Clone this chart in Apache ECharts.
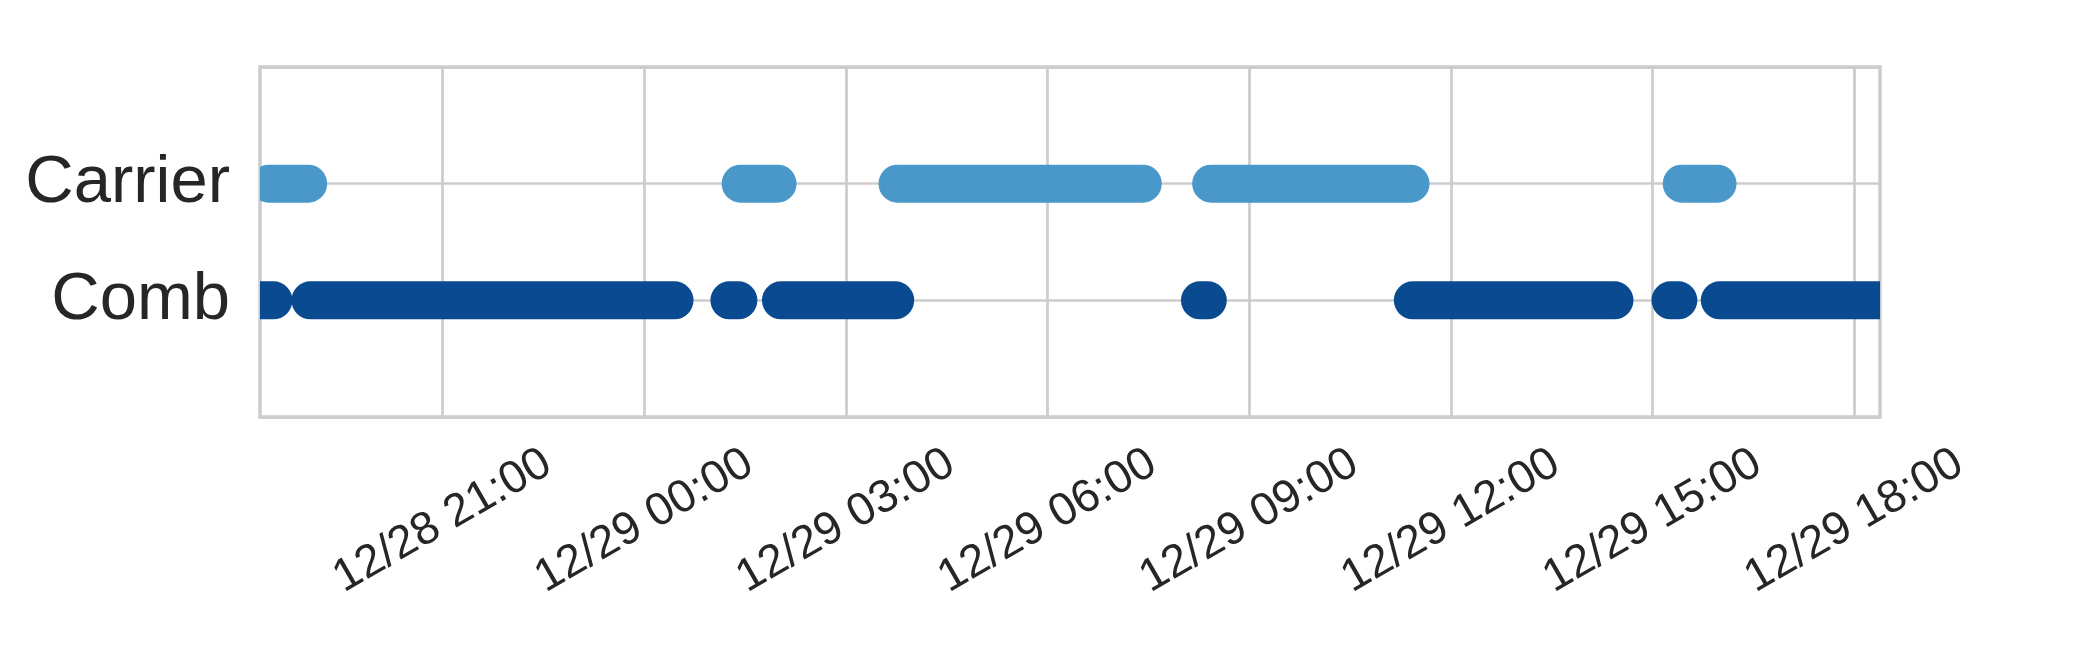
<!DOCTYPE html>
<html>
<head>
<meta charset="utf-8">
<script src="https://cdn.jsdelivr.net/npm/echarts@6/dist/echarts.min.js"></script>
<style>
  html, body { margin: 0; padding: 0; background: #fff; }
  #chart { width: 2088px; height: 665px; }
</style>
</head>
<body>
<div id="chart"></div>
<script>
  // rows of the y axis (index = position, bottom to top)
  var rows = ['Comb', 'Carrier'];

  // runs of consecutive samples (MM/DD HH:MM), first and last sample of each run
  var carrierStart = ['12/28 18:25', '12/29 01:26', '12/29 03:46', '12/29 08:26', '12/29 15:26'];
  var carrierEnd   = ['12/28 19:00', '12/29 01:59', '12/29 07:25', '12/29 11:24', '12/29 15:58'];

  var combStart = ['12/28 18:17', '12/28 19:02', '12/29 01:16', '12/29 02:02',
                   '12/29 08:16', '12/29 11:26', '12/29 15:16', '12/29 16:00'];
  var combEnd   = ['12/28 18:29', '12/29 00:27', '12/29 01:24', '12/29 03:44',
                   '12/29 08:23', '12/29 14:26', '12/29 15:23', '12/29 18:23'];

  var xTickLabels = ['12/28 21:00', '12/29 00:00', '12/29 03:00', '12/29 06:00',
                     '12/29 09:00', '12/29 12:00', '12/29 15:00', '12/29 18:00'];
  var xStart = '12/28 18:17';
  var xEnd = '12/29 18:23';

  // 'MM/DD HH:MM' -> hours since 12/28 00:00
  function toHours(s) {
    var p = s.split(/[\/ :]/);
    return (+p[1] - 28) * 24 + (+p[2]) + (+p[3]) / 60;
  }

  var xTickHours = xTickLabels.map(toHours);

  function toData(starts, ends, row) {
    return starts.map(function (s, i) {
      return [toHours(s), toHours(ends[i]), rows.indexOf(row)];
    });
  }

  // round-capped bar from first to last sample, 38px tall
  function renderRun(params, api) {
    var y = api.value(2);
    var a = api.coord([api.value(0), y]);
    var b = api.coord([api.value(1), y]);
    return {
      type: 'rect',
      shape: { x: a[0] - 19, y: a[1] - 19, width: b[0] - a[0] + 38, height: 38, r: 19 },
      style: { fill: api.visual('color') }
    };
  }

  var myChart = echarts.init(document.getElementById('chart'));
  var option = {
    animation: false,
    backgroundColor: '#ffffff',
    grid: {
      left: 260, top: 67, width: 1620, height: 350,
      outerBoundsMode: 'none',
      show: true,
      borderColor: '#cccccc',
      borderWidth: 3.5,
      backgroundColor: '#ffffff'
    },
    xAxis: {
      type: 'value',
      min: toHours(xStart),
      max: toHours(xEnd),
      axisLine: { show: false },
      axisTick: { show: false, customValues: xTickHours },
      splitLine: { show: true, lineStyle: { color: '#cccccc', width: 2.7 } },
      axisLabel: {
        customValues: xTickHours,
        rotate: 30,
        align: 'center',
        verticalAlign: 'middle',
        margin: 104,
        fontSize: 46,
        fontFamily: 'Liberation Sans, Arial, sans-serif',
        color: '#262626',
        formatter: function (v) {
          var i = xTickHours.indexOf(v);
          return i >= 0 ? xTickLabels[i] : '';
        }
      }
    },
    yAxis: {
      type: 'value',
      min: -1,
      max: 2,
      interval: 1,
      axisLine: { show: false },
      axisTick: { show: false },
      splitLine: { show: true, lineStyle: { color: '#cccccc', width: 2.7 } },
      axisLabel: {
        margin: 30,
        fontSize: 67,
        fontFamily: 'Liberation Sans, Arial, sans-serif',
        color: '#262626',
        formatter: function (v) { return rows[v] || ''; }
      }
    },
    series: [
      {
        name: 'Carrier',
        type: 'custom',
        clip: true,
        itemStyle: { color: '#4a98c9' },
        encode: { x: [0, 1], y: 2 },
        renderItem: renderRun,
        data: toData(carrierStart, carrierEnd, 'Carrier')
      },
      {
        name: 'Comb',
        type: 'custom',
        clip: true,
        itemStyle: { color: '#0a4a90' },
        encode: { x: [0, 1], y: 2 },
        renderItem: renderRun,
        data: toData(combStart, combEnd, 'Comb')
      }
    ]
  };
  myChart.setOption(option);
</script>
</body>
</html>
